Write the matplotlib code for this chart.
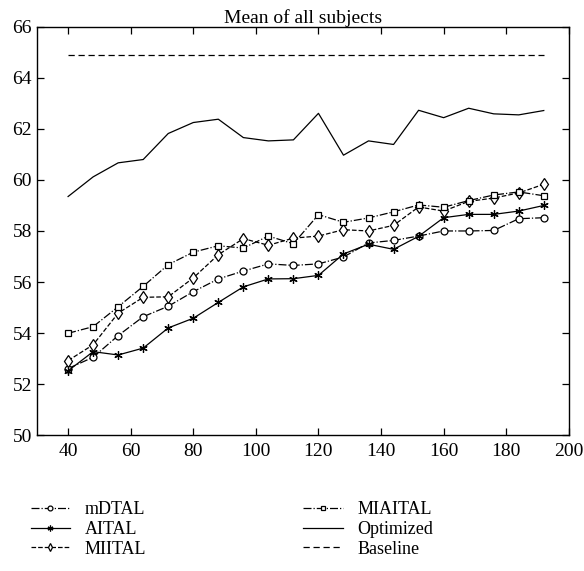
import matplotlib
matplotlib.use("Agg")
import matplotlib.pyplot as plt

plt.rcParams['font.family'] = ['Liberation Serif', 'DejaVu Serif']

x = [40, 48, 56, 64, 72, 80, 88, 96, 104, 112, 120, 128, 136, 144, 152, 160, 168, 176, 184, 192]

mdtal = [52.61, 53.05, 53.90, 54.64, 55.05, 55.62, 56.12, 56.43, 56.71, 56.65,
         56.71, 56.98, 57.53, 57.63, 57.80, 58.00, 58.00, 58.02, 58.48, 58.52]
aital = [52.52, 53.27, 53.14, 53.41, 54.20, 54.58, 55.20, 55.81, 56.12, 56.13,
         56.26, 57.10, 57.48, 57.28, 57.79, 58.52, 58.65, 58.65, 58.78, 59.00]
miital = [52.92, 53.54, 54.78, 55.40, 55.42, 56.16, 57.07, 57.70, 57.44, 57.72,
          57.80, 58.05, 58.00, 58.22, 58.94, 58.78, 59.16, 59.29, 59.49, 59.83]
miaital = [53.99, 54.25, 55.03, 55.83, 56.68, 57.17, 57.42, 57.33, 57.80, 57.50,
           58.64, 58.34, 58.51, 58.75, 59.02, 58.93, 59.19, 59.41, 59.53, 59.38]
optimized = [59.35, 60.12, 60.67, 60.80, 61.82, 62.25, 62.38, 61.66, 61.53, 61.57,
             62.61, 60.97, 61.53, 61.39, 62.73, 62.44, 62.81, 62.59, 62.55, 62.72]
baseline = [64.89] * len(x)

xticks = [40, 60, 80, 100, 120, 140, 160, 180, 200]
yticks = [50, 52, 54, 56, 58, 60, 62, 64, 66]

fig = plt.figure(figsize=(5.84, 5.71), dpi=100)
ax = fig.add_axes([0.063, 0.238, 0.911, 0.715])

mk = dict(color='black', linewidth=0.9, markerfacecolor='white', markeredgecolor='black', markeredgewidth=0.9)
ax.plot(x, mdtal, linestyle='-.', marker='o', markersize=5, label='mDTAL', **mk)
ax.plot(x, aital, linestyle='-', marker=(6, 2, 0), markersize=6, label='AITAL', **mk)
ax.plot(x, miital, linestyle='--', marker='d', markersize=6, label='MIITAL', **mk)
ax.plot(x, miaital, linestyle='-.', marker='s', markersize=4, label='MIAITAL', **mk)
ax.plot(x, optimized, linestyle='-', color='black', linewidth=0.9, label='Optimized')
ax.plot(x, baseline, linestyle=(0, (5, 3)), color='black', linewidth=0.9, label='Baseline')

ax.set_xlim(30, 200)
ax.set_ylim(50, 66)
ax.set_xticks(xticks)
ax.set_yticks(yticks)
ax.tick_params(direction='in', top=True, right=True, labelsize=14, length=5, width=0.9)
ax.tick_params(axis='x', pad=6)
for s in ax.spines.values():
    s.set_linewidth(1.0)
ax.set_title('Mean of all subjects', fontsize=14, pad=3)

fig.legend(loc='upper left', bbox_to_anchor=(0.04, 0.135), ncol=2, frameon=False,
           fontsize=13, handlelength=2.2, columnspacing=8.7, labelspacing=0.15,
           handletextpad=0.8, borderaxespad=0, numpoints=1, markerscale=0.7)

fig.savefig('out.png', dpi=100)
